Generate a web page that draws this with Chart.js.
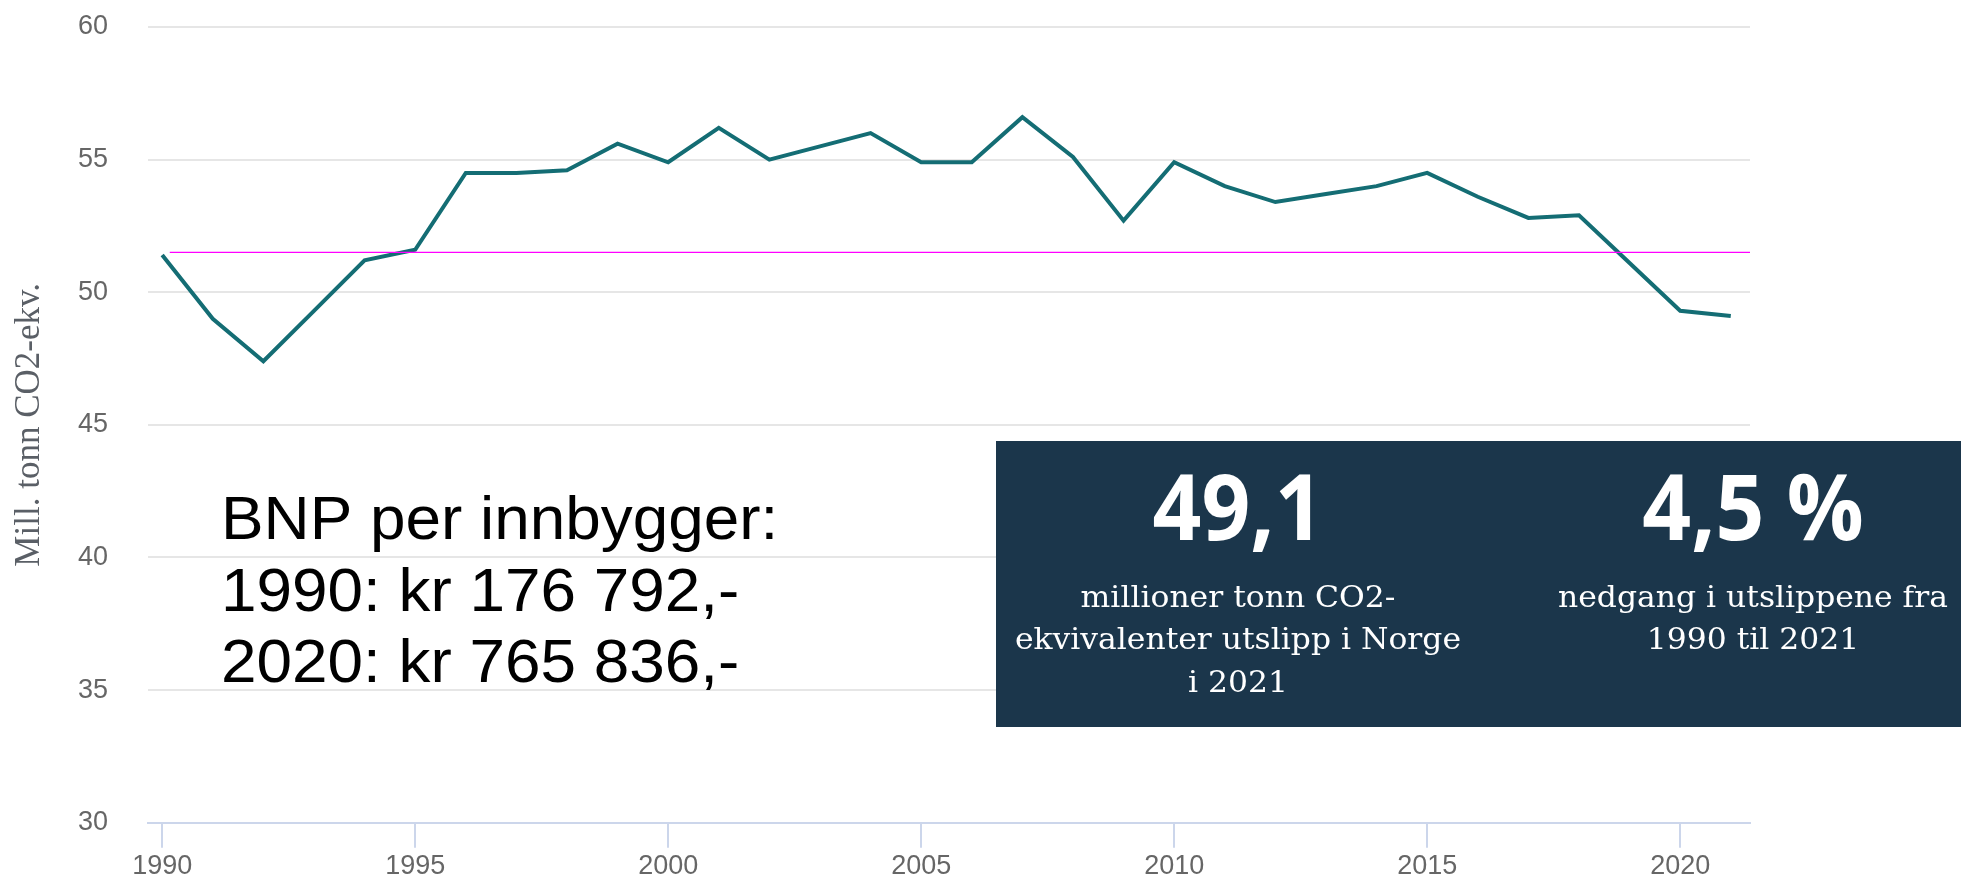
<!DOCTYPE html>
<html>
<head>
<meta charset="utf-8">
<script src="https://cdn.jsdelivr.net/npm/chart.js@4.4.1/dist/chart.umd.min.js"></script>
<style>
html,body{margin:0;padding:0;background:#fff;overflow:hidden}
#wrap{position:relative;width:1961px;height:876px}
</style>
</head>
<body>
<div id="wrap"><canvas id="c" width="1961" height="876"></canvas></div>
<script>
// ---- data ----
const years = [1990,1991,1992,1993,1994,1995,1996,1997,1998,1999,2000,2001,2002,2003,2004,2005,2006,2007,2008,2009,2010,2011,2012,2013,2014,2015,2016,2017,2018,2019,2020,2021];
const emissions = [51.4,49.0,47.4,49.3,51.2,51.6,54.5,54.5,54.6,55.6,54.9,56.2,55.0,55.5,56.0,54.9,54.9,56.6,55.1,52.7,54.9,54.0,53.4,53.7,54.0,54.5,53.6,52.8,52.9,51.1,49.3,49.1];
const xTickYears = [1990,1995,2000,2005,2010,2015,2020];
const yTicks = [30,35,40,45,50,55,60];
const referenceLevel = [51.5];           // 1990-level reference line
const referenceFrom = [1990.15];
const axisTitle = 'Mill. tonn CO2-ekv.';
const bnpLines = ['BNP per innbygger:', '1990: kr 176 792,-', '2020: kr 765 836,-'];
const statValues = ['49,1', '4,5 %'];
const statTexts = [
  ['millioner tonn CO2-', 'ekvivalenter utslipp i Norge', 'i 2021'],
  ['nedgang i utslippene fra', '1990 til 2021']
];

// ---- layout / style ----
const X_MIN = 1989.72, X_MAX = 2021.38;
const BOX = {x: 996, y: 441, w: 965, h: 286, color: '#1b364b'};
const STAT_CX = [1238, 1753];

function drawScaled(ctx, text, x, y, sx) {
  ctx.save();
  ctx.translate(x, y);
  ctx.scale(sx, 1);
  ctx.fillText(text, 0, 0);
  ctx.restore();
}

const overlay = {
  id: 'overlay',
  afterDraw(chart) {
    const ctx = chart.ctx;
    ctx.save();
    // BNP text
    ctx.font = '62px "Liberation Sans", Arial, sans-serif';
    ctx.fillStyle = '#000';
    ctx.textAlign = 'left';
    ctx.textBaseline = 'alphabetic';
    const bnpBase = [539, 610.5, 682];
    bnpLines.forEach((t, i) => drawScaled(ctx, t, 221, bnpBase[i], 1.03));

    // box
    ctx.fillStyle = BOX.color;
    ctx.fillRect(BOX.x, BOX.y, BOX.w, BOX.h);

    // big values
    ctx.fillStyle = '#fff';
    ctx.textAlign = 'center';
    ctx.font = 'bold 91px "Open Sans", sans-serif';
    const bigSx = 171 / ctx.measureText(statValues[0]).width;
    statValues.forEach((t, i) => drawScaled(ctx, t, STAT_CX[i], 540, bigSx));

    // sub texts
    ctx.font = '29px "DejaVu Serif", serif';
    const subSx = 446 / ctx.measureText(statTexts[0][1]).width;
    const subBase = [607, 649, 692];
    statTexts.forEach((lines, c) => {
      lines.forEach((t, i) => drawScaled(ctx, t, STAT_CX[c], subBase[i], subSx));
    });
    ctx.restore();
  }
};

new Chart(document.getElementById('c'), {
  type: 'line',
  data: {
    datasets: [
      {
        data: [{x: referenceFrom[0], y: referenceLevel[0]}, {x: X_MAX, y: referenceLevel[0]}],
        borderColor: '#ff00ff',
        borderWidth: 1.3,
        pointRadius: 0,
        order: 0
      },
      {
        data: years.map((y, i) => ({x: y, y: emissions[i]})),
        borderColor: '#146d74',
        borderWidth: 4,
        pointRadius: 0,
        tension: 0,
        borderJoinStyle: 'miter',
        order: 1
      }
    ]
  },
  options: {
    responsive: false,
    animation: false,
    events: [],
    layout: {padding: {left: 0, top: 27, right: 211, bottom: 0}, autoPadding: false},
    plugins: {legend: {display: false}, tooltip: {enabled: false}, title: {display: false}},
    scales: {
      x: {
        type: 'linear',
        min: X_MIN,
        max: X_MAX,
        afterBuildTicks: s => { s.ticks = xTickYears.map(v => ({value: v})); },
        afterFit: s => { s.height = 53.3; s.paddingLeft = 0; s.paddingRight = 0; },
        grid: {drawOnChartArea: false, drawTicks: true, tickLength: 25, color: '#ccd6eb', lineWidth: 2},
        border: {display: true, color: '#ccd6eb', width: 2},
        ticks: {
          padding: 3, color: '#666',
          font: {family: '"Liberation Sans", Arial, sans-serif', size: 27},
          maxRotation: 0, autoSkip: false,
          callback: v => String(v)
        }
      },
      y: {
        min: 30,
        max: 60,
        afterBuildTicks: s => { s.ticks = yTicks.map(v => ({value: v})); },
        afterFit: s => { s.width = 148; s.paddingTop = 0; s.paddingBottom = 0; },
        grid: {color: '#e6e6e6', lineWidth: 2, drawTicks: false},
        border: {display: false},
        ticks: {
          padding: 40, color: '#666',
          font: {family: '"Liberation Sans", Arial, sans-serif', size: 27},
          callback: v => String(v)
        },
        title: {
          display: true, text: axisTitle, color: '#5a5f66',
          font: {family: '"Liberation Serif", serif', size: 35},
          padding: {top: 9, bottom: 0}
        }
      }
    }
  },
  plugins: [overlay]
});
</script>
</body>
</html>
